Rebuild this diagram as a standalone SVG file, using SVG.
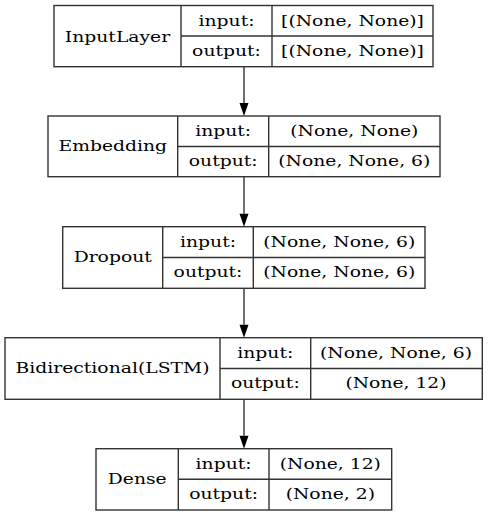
<svg xmlns="http://www.w3.org/2000/svg" width="488" height="516" viewBox="0 0 488 516">
<defs>
<style>
rect.bg{fill:#fff}
.box{fill:none;stroke:#333;stroke-width:1.4}
text{font-family:"DejaVu Serif","Liberation Serif",serif;font-size:15px;fill:#000;text-anchor:middle}
.edge{stroke:#333;stroke-width:1.4;fill:none}
.head{fill:#000}
</style>
</defs>
<rect class="bg" x="0" y="0" width="488" height="516"/>
<g id="connectors">
<line class="edge" x1="244" y1="67" x2="244" y2="103"/><path class="head" d="M239.5,103 L248.5,103 L244,116 Z"/>
<line class="edge" x1="244" y1="177" x2="244" y2="213.7"/><path class="head" d="M239.5,213.7 L248.5,213.7 L244,226.7 Z"/>
<line class="edge" x1="244" y1="288.5" x2="244" y2="324.7"/><path class="head" d="M239.5,324.7 L248.5,324.7 L244,337.7 Z"/>
<line class="edge" x1="244" y1="399.5" x2="244" y2="435.7"/><path class="head" d="M239.5,435.7 L248.5,435.7 L244,448.7 Z"/>
</g>
<g id="node-inputlayer">
<rect class="box" x="54" y="5.5" width="379" height="61.2"/>
<path class="box" d="M181,5.5V66.7M272,5.5V66.7M181,36H433"/>
<text transform="translate(117.5,41.6) scale(1.25,1)">InputLayer</text>
<text transform="translate(226.5,25.6) scale(1.25,1)">input:</text>
<text transform="translate(226.5,56.2) scale(1.25,1)">output:</text>
<text transform="translate(352.5,25.6) scale(1.25,1)">[(None, None)]</text>
<text transform="translate(352.5,56.2) scale(1.25,1)">[(None, None)]</text>
</g>
<g id="node-embedding">
<rect class="box" x="48" y="116" width="392" height="60.7"/>
<path class="box" d="M177.7,116V176.7M268.7,116V176.7M177.7,146.5H440"/>
<text transform="translate(112.8,151) scale(1.25,1)">Embedding</text>
<text transform="translate(223.2,135.8) scale(1.25,1)">input:</text>
<text transform="translate(223.2,166.2) scale(1.25,1)">output:</text>
<text transform="translate(354.3,135.8) scale(1.25,1)">(None, None)</text>
<text transform="translate(354.3,166.2) scale(1.25,1)">(None, None, 6)</text>
</g>
<g id="node-dropout">
<rect class="box" x="62.7" y="226.7" width="362.3" height="61.6"/>
<path class="box" d="M162.7,226.7V288.3M253.3,226.7V288.3M162.7,257.5H425"/>
<text transform="translate(112.7,262.2) scale(1.25,1)">Dropout</text>
<text transform="translate(208,246.7) scale(1.25,1)">input:</text>
<text transform="translate(208,277.4) scale(1.25,1)">output:</text>
<text transform="translate(339.2,246.7) scale(1.25,1)">(None, None, 6)</text>
<text transform="translate(339.2,277.4) scale(1.25,1)">(None, None, 6)</text>
</g>
<g id="node-bidirectional">
<rect class="box" x="5" y="337.7" width="477.3" height="61.6"/>
<path class="box" d="M220,337.7V399.3M310.7,337.7V399.3M220,368.5H482.3"/>
<text transform="translate(112.5,373.2) scale(1.25,1)">Bidirectional(LSTM)</text>
<text transform="translate(265.3,357.5) scale(1.25,1)">input:</text>
<text transform="translate(265.3,388.3) scale(1.25,1)">output:</text>
<text transform="translate(396,357.5) scale(1.25,1)">(None, None, 6)</text>
<text transform="translate(396,388.3) scale(1.25,1)">(None, 12)</text>
</g>
<g id="node-dense">
<rect class="box" x="96" y="448.7" width="295.7" height="61.3"/>
<path class="box" d="M178.3,448.7V510M269,448.7V510M178.3,479.3H391.7"/>
<text transform="translate(137.2,484) scale(1.25,1)">Dense</text>
<text transform="translate(223.6,468.5) scale(1.25,1)">input:</text>
<text transform="translate(223.6,499.1) scale(1.25,1)">output:</text>
<text transform="translate(330.3,468.5) scale(1.25,1)">(None, 12)</text>
<text transform="translate(330.3,499.1) scale(1.25,1)">(None, 2)</text>
</g>
</svg>
